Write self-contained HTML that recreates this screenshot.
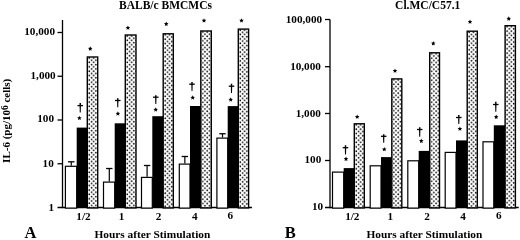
<!DOCTYPE html>
<html><head><meta charset="utf-8"><style>
html,body{margin:0;padding:0;background:#fff;width:520px;height:240px;overflow:hidden}
svg{display:block;will-change:transform}
text{font-family:"Liberation Serif",serif;font-weight:bold;fill:#000}
</style></head><body>
<svg width="520" height="240" viewBox="0 0 520 240">
<defs>
<pattern id="d0" patternUnits="userSpaceOnUse" width="4.4" height="4.4" x="88.20" y="56.90"><rect width="4.4" height="4.4" fill="#fff"/><circle cx="1.1" cy="1.1" r="0.85" fill="#000"/><circle cx="3.3" cy="3.3" r="0.85" fill="#000"/></pattern>
<pattern id="d1" patternUnits="userSpaceOnUse" width="4.4" height="4.4" x="126.20" y="34.90"><rect width="4.4" height="4.4" fill="#fff"/><circle cx="1.1" cy="1.1" r="0.85" fill="#000"/><circle cx="3.3" cy="3.3" r="0.85" fill="#000"/></pattern>
<pattern id="d2" patternUnits="userSpaceOnUse" width="4.4" height="4.4" x="164.10" y="33.70"><rect width="4.4" height="4.4" fill="#fff"/><circle cx="1.1" cy="1.1" r="0.85" fill="#000"/><circle cx="3.3" cy="3.3" r="0.85" fill="#000"/></pattern>
<pattern id="d3" patternUnits="userSpaceOnUse" width="4.4" height="4.4" x="201.70" y="30.90"><rect width="4.4" height="4.4" fill="#fff"/><circle cx="1.1" cy="1.1" r="0.85" fill="#000"/><circle cx="3.3" cy="3.3" r="0.85" fill="#000"/></pattern>
<pattern id="d4" patternUnits="userSpaceOnUse" width="4.4" height="4.4" x="239.20" y="29.00"><rect width="4.4" height="4.4" fill="#fff"/><circle cx="1.1" cy="1.1" r="0.85" fill="#000"/><circle cx="3.3" cy="3.3" r="0.85" fill="#000"/></pattern>
<pattern id="d5" patternUnits="userSpaceOnUse" width="4.4" height="4.4" x="355.20" y="123.70"><rect width="4.4" height="4.4" fill="#fff"/><circle cx="1.1" cy="1.1" r="0.85" fill="#000"/><circle cx="3.3" cy="3.3" r="0.85" fill="#000"/></pattern>
<pattern id="d6" patternUnits="userSpaceOnUse" width="4.4" height="4.4" x="392.70" y="78.80"><rect width="4.4" height="4.4" fill="#fff"/><circle cx="1.1" cy="1.1" r="0.85" fill="#000"/><circle cx="3.3" cy="3.3" r="0.85" fill="#000"/></pattern>
<pattern id="d7" patternUnits="userSpaceOnUse" width="4.4" height="4.4" x="430.60" y="52.70"><rect width="4.4" height="4.4" fill="#fff"/><circle cx="1.1" cy="1.1" r="0.85" fill="#000"/><circle cx="3.3" cy="3.3" r="0.85" fill="#000"/></pattern>
<pattern id="d8" patternUnits="userSpaceOnUse" width="4.4" height="4.4" x="468.10" y="31.10"><rect width="4.4" height="4.4" fill="#fff"/><circle cx="1.1" cy="1.1" r="0.85" fill="#000"/><circle cx="3.3" cy="3.3" r="0.85" fill="#000"/></pattern>
<pattern id="d9" patternUnits="userSpaceOnUse" width="4.4" height="4.4" x="506.00" y="25.60"><rect width="4.4" height="4.4" fill="#fff"/><circle cx="1.1" cy="1.1" r="0.85" fill="#000"/><circle cx="3.3" cy="3.3" r="0.85" fill="#000"/></pattern>
</defs>
<rect width="520" height="240" fill="#fff"/>
<line x1="62.5" y1="20" x2="62.5" y2="208.2" stroke="#000" stroke-width="1.3"/>
<line x1="57.5" y1="32.5" x2="62.5" y2="32.5" stroke="#000" stroke-width="1.3"/>
<line x1="57.5" y1="76.25" x2="62.5" y2="76.25" stroke="#000" stroke-width="1.3"/>
<line x1="57.5" y1="120" x2="62.5" y2="120" stroke="#000" stroke-width="1.3"/>
<line x1="57.5" y1="163.75" x2="62.5" y2="163.75" stroke="#000" stroke-width="1.3"/>
<line x1="57.5" y1="207.5" x2="252" y2="207.5" stroke="#000" stroke-width="1.5"/>
<rect x="65.40" y="166.30" width="11.30" height="41.80" fill="#fff" stroke="#000" stroke-width="1.2"/>
<rect x="76.70" y="127.60" width="10.60" height="79.90" fill="#000"/>
<rect x="87.30" y="57.00" width="10.40" height="150.90" fill="url(#d0)" stroke="#000" stroke-width="1.4"/>
<line x1="71.25000000000001" y1="161.8" x2="71.25000000000001" y2="165.7" stroke="#000" stroke-width="1.2"/>
<line x1="68.05000000000001" y1="161.8" x2="74.45000000000002" y2="161.8" stroke="#000" stroke-width="1.3"/>
<rect x="103.50" y="182.10" width="11.20" height="26.00" fill="#fff" stroke="#000" stroke-width="1.2"/>
<rect x="114.70" y="123.30" width="10.60" height="84.20" fill="#000"/>
<rect x="125.30" y="35.00" width="10.70" height="172.90" fill="url(#d1)" stroke="#000" stroke-width="1.4"/>
<line x1="109.3" y1="168.5" x2="109.3" y2="181.5" stroke="#000" stroke-width="1.2"/>
<line x1="106.1" y1="168.5" x2="112.5" y2="168.5" stroke="#000" stroke-width="1.3"/>
<rect x="141.50" y="177.40" width="10.80" height="30.70" fill="#fff" stroke="#000" stroke-width="1.2"/>
<rect x="152.30" y="116.20" width="10.90" height="91.30" fill="#000"/>
<rect x="163.20" y="33.80" width="10.10" height="174.10" fill="url(#d2)" stroke="#000" stroke-width="1.4"/>
<line x1="147.1" y1="165.5" x2="147.1" y2="176.8" stroke="#000" stroke-width="1.2"/>
<line x1="143.9" y1="165.5" x2="150.29999999999998" y2="165.5" stroke="#000" stroke-width="1.3"/>
<rect x="179.30" y="164.10" width="10.70" height="44.00" fill="#fff" stroke="#000" stroke-width="1.2"/>
<rect x="190.00" y="106.00" width="10.80" height="101.50" fill="#000"/>
<rect x="200.80" y="31.00" width="10.50" height="176.90" fill="url(#d3)" stroke="#000" stroke-width="1.4"/>
<line x1="184.85" y1="156.5" x2="184.85" y2="163.5" stroke="#000" stroke-width="1.2"/>
<line x1="181.65" y1="156.5" x2="188.04999999999998" y2="156.5" stroke="#000" stroke-width="1.3"/>
<rect x="216.90" y="138.10" width="10.80" height="70.00" fill="#fff" stroke="#000" stroke-width="1.2"/>
<rect x="227.70" y="106.10" width="10.60" height="101.40" fill="#000"/>
<rect x="238.30" y="29.10" width="10.30" height="178.80" fill="url(#d4)" stroke="#000" stroke-width="1.4"/>
<line x1="222.5" y1="133.75" x2="222.5" y2="137.5" stroke="#000" stroke-width="1.2"/>
<line x1="219.3" y1="133.75" x2="225.7" y2="133.75" stroke="#000" stroke-width="1.3"/>
<path d="M79.50,103.10 L81.00,103.10 L80.75,112.50 L79.75,112.50Z" fill="#000"/>
<line x1="77.5" y1="105.6" x2="83.0" y2="105.6" stroke="#000" stroke-width="1.3"/>
<path d="M117.00,98.25 L118.50,98.25 L118.25,107.25 L117.25,107.25Z" fill="#000"/>
<line x1="115.0" y1="100.5" x2="120.5" y2="100.5" stroke="#000" stroke-width="1.3"/>
<path d="M155.05,95.30 L156.55,95.30 L156.30,104.00 L155.30,104.00Z" fill="#000"/>
<line x1="153.05" y1="97.2" x2="158.55" y2="97.2" stroke="#000" stroke-width="1.3"/>
<path d="M191.25,82.00 L192.75,82.00 L192.50,91.00 L191.50,91.00Z" fill="#000"/>
<line x1="189.25" y1="84.2" x2="194.75" y2="84.2" stroke="#000" stroke-width="1.3"/>
<path d="M230.75,83.70 L232.25,83.70 L232.00,93.00 L231.00,93.00Z" fill="#000"/>
<line x1="228.75" y1="86.2" x2="234.25" y2="86.2" stroke="#000" stroke-width="1.3"/>
<polygon points="79.40,115.70 80.06,117.19 81.68,117.36 80.47,118.45 80.81,120.04 79.40,119.23 77.99,120.04 78.33,118.45 77.12,117.36 78.74,117.19" fill="#000"/>
<polygon points="117.90,111.30 118.56,112.79 120.18,112.96 118.97,114.05 119.31,115.64 117.90,114.83 116.49,115.64 116.83,114.05 115.62,112.96 117.24,112.79" fill="#000"/>
<polygon points="155.70,107.30 156.36,108.79 157.98,108.96 156.77,110.05 157.11,111.64 155.70,110.83 154.29,111.64 154.63,110.05 153.42,108.96 155.04,108.79" fill="#000"/>
<polygon points="192.70,95.30 193.36,96.79 194.98,96.96 193.77,98.05 194.11,99.64 192.70,98.83 191.29,99.64 191.63,98.05 190.42,96.96 192.04,96.79" fill="#000"/>
<polygon points="230.70,97.30 231.36,98.79 232.98,98.96 231.77,100.05 232.11,101.64 230.70,100.83 229.29,101.64 229.63,100.05 228.42,98.96 230.04,98.79" fill="#000"/>
<polygon points="90.25,46.35 90.91,47.84 92.53,48.01 91.32,49.10 91.66,50.69 90.25,49.88 88.84,50.69 89.18,49.10 87.97,48.01 89.59,47.84" fill="#000"/>
<polygon points="127.90,25.50 128.56,26.99 130.18,27.16 128.97,28.25 129.31,29.84 127.90,29.03 126.49,29.84 126.83,28.25 125.62,27.16 127.24,26.99" fill="#000"/>
<polygon points="166.25,21.60 166.91,23.09 168.53,23.26 167.32,24.35 167.66,25.94 166.25,25.13 164.84,25.94 165.18,24.35 163.97,23.26 165.59,23.09" fill="#000"/>
<polygon points="204.00,18.20 204.66,19.69 206.28,19.86 205.07,20.95 205.41,22.54 204.00,21.73 202.59,22.54 202.93,20.95 201.72,19.86 203.34,19.69" fill="#000"/>
<polygon points="241.50,18.20 242.16,19.69 243.78,19.86 242.57,20.95 242.91,22.54 241.50,21.73 240.09,22.54 240.43,20.95 239.22,19.86 240.84,19.69" fill="#000"/>
<line x1="330" y1="19.5" x2="330" y2="208.2" stroke="#000" stroke-width="1.3"/>
<line x1="325" y1="19.5" x2="330" y2="19.5" stroke="#000" stroke-width="1.3"/>
<line x1="325" y1="66.7" x2="330" y2="66.7" stroke="#000" stroke-width="1.3"/>
<line x1="325" y1="113.5" x2="330" y2="113.5" stroke="#000" stroke-width="1.3"/>
<line x1="325" y1="160.5" x2="330" y2="160.5" stroke="#000" stroke-width="1.3"/>
<line x1="325" y1="207.5" x2="518.75" y2="207.5" stroke="#000" stroke-width="1.5"/>
<rect x="332.50" y="172.10" width="11.20" height="36.00" fill="#fff" stroke="#000" stroke-width="1.2"/>
<rect x="343.70" y="168.10" width="10.60" height="39.40" fill="#000"/>
<rect x="354.30" y="123.80" width="10.00" height="84.10" fill="url(#d5)" stroke="#000" stroke-width="1.4"/>
<rect x="370.20" y="165.80" width="10.80" height="42.30" fill="#fff" stroke="#000" stroke-width="1.2"/>
<rect x="381.00" y="157.10" width="10.80" height="50.40" fill="#000"/>
<rect x="391.80" y="78.90" width="10.00" height="129.00" fill="url(#d6)" stroke="#000" stroke-width="1.4"/>
<rect x="407.80" y="160.80" width="10.90" height="47.30" fill="#fff" stroke="#000" stroke-width="1.2"/>
<rect x="418.70" y="150.90" width="11.00" height="56.60" fill="#000"/>
<rect x="429.70" y="52.80" width="9.80" height="155.10" fill="url(#d7)" stroke="#000" stroke-width="1.4"/>
<rect x="445.20" y="152.40" width="10.80" height="55.70" fill="#fff" stroke="#000" stroke-width="1.2"/>
<rect x="456.00" y="140.40" width="11.20" height="67.10" fill="#000"/>
<rect x="467.20" y="31.20" width="10.10" height="176.70" fill="url(#d8)" stroke="#000" stroke-width="1.4"/>
<rect x="483.00" y="141.80" width="10.80" height="66.30" fill="#fff" stroke="#000" stroke-width="1.2"/>
<rect x="493.80" y="125.30" width="11.30" height="82.20" fill="#000"/>
<rect x="505.10" y="25.70" width="10.30" height="182.20" fill="url(#d9)" stroke="#000" stroke-width="1.4"/>
<path d="M344.75,145.20 L346.25,145.20 L346.00,154.50 L345.00,154.50Z" fill="#000"/>
<line x1="342.75" y1="147.7" x2="348.25" y2="147.7" stroke="#000" stroke-width="1.3"/>
<path d="M382.95,134.20 L384.45,134.20 L384.20,142.70 L383.20,142.70Z" fill="#000"/>
<line x1="380.95" y1="136.3" x2="386.45" y2="136.3" stroke="#000" stroke-width="1.3"/>
<path d="M418.95,127.30 L420.45,127.30 L420.20,136.70 L419.20,136.70Z" fill="#000"/>
<line x1="416.95" y1="129.5" x2="422.45" y2="129.5" stroke="#000" stroke-width="1.3"/>
<path d="M458.05,115.00 L459.55,115.00 L459.30,124.00 L458.30,124.00Z" fill="#000"/>
<line x1="456.05" y1="117.5" x2="461.55" y2="117.5" stroke="#000" stroke-width="1.3"/>
<path d="M495.05,101.70 L496.55,101.70 L496.30,111.70 L495.30,111.70Z" fill="#000"/>
<line x1="493.05" y1="104.5" x2="498.55" y2="104.5" stroke="#000" stroke-width="1.3"/>
<polygon points="346.00,156.60 346.66,158.09 348.28,158.26 347.07,159.35 347.41,160.94 346.00,160.13 344.59,160.94 344.93,159.35 343.72,158.26 345.34,158.09" fill="#000"/>
<polygon points="384.30,146.90 384.96,148.39 386.58,148.56 385.37,149.65 385.71,151.24 384.30,150.43 382.89,151.24 383.23,149.65 382.02,148.56 383.64,148.39" fill="#000"/>
<polygon points="421.30,138.60 421.96,140.09 423.58,140.26 422.37,141.35 422.71,142.94 421.30,142.13 419.89,142.94 420.23,141.35 419.02,140.26 420.64,140.09" fill="#000"/>
<polygon points="459.90,126.40 460.56,127.89 462.18,128.06 460.97,129.15 461.31,130.74 459.90,129.93 458.49,130.74 458.83,129.15 457.62,128.06 459.24,127.89" fill="#000"/>
<polygon points="496.20,114.60 496.86,116.09 498.48,116.26 497.27,117.35 497.61,118.94 496.20,118.13 494.79,118.94 495.13,117.35 493.92,116.26 495.54,116.09" fill="#000"/>
<polygon points="357.20,114.40 357.86,115.89 359.48,116.06 358.27,117.15 358.61,118.74 357.20,117.93 355.79,118.74 356.13,117.15 354.92,116.06 356.54,115.89" fill="#000"/>
<polygon points="395.00,68.40 395.66,69.89 397.28,70.06 396.07,71.15 396.41,72.74 395.00,71.93 393.59,72.74 393.93,71.15 392.72,70.06 394.34,69.89" fill="#000"/>
<polygon points="433.30,41.10 433.96,42.59 435.58,42.76 434.37,43.85 434.71,45.44 433.30,44.63 431.89,45.44 432.23,43.85 431.02,42.76 432.64,42.59" fill="#000"/>
<polygon points="470.00,19.50 470.66,20.99 472.28,21.16 471.07,22.25 471.41,23.84 470.00,23.03 468.59,23.84 468.93,22.25 467.72,21.16 469.34,20.99" fill="#000"/>
<polygon points="508.75,16.35 509.41,17.84 511.03,18.01 509.82,19.10 510.16,20.69 508.75,19.88 507.34,20.69 507.68,19.10 506.47,18.01 508.09,17.84" fill="#000"/>
<text x="55.0" y="35.4" font-size="11.2" text-anchor="end">10,000</text>
<text x="55.699999999999996" y="79.39999999999999" font-size="11.2" text-anchor="end">1,000</text>
<text x="54.05" y="122.2" font-size="11.2" text-anchor="end">100</text>
<text x="53.8" y="167.0" font-size="11.2" text-anchor="end">10</text>
<text x="54.05" y="211.4" font-size="11.2" text-anchor="end">1</text>
<text x="322.1" y="23.1" font-size="11.2" text-anchor="end">100,000</text>
<text x="320.90000000000003" y="69.8" font-size="11.2" text-anchor="end">10,000</text>
<text x="320.90000000000003" y="116.8" font-size="11.2" text-anchor="end">1,000</text>
<text x="321.3" y="163.4" font-size="11.2" text-anchor="end">100</text>
<text x="323.2" y="210.4" font-size="11.2" text-anchor="end">10</text>
<text x="83.45" y="220.0" font-size="11.2" text-anchor="middle">1/2</text>
<text x="121.6" y="220.0" font-size="11.2" text-anchor="middle">1</text>
<text x="158.6" y="220.0" font-size="11.2" text-anchor="middle">2</text>
<text x="194.8" y="220.0" font-size="11.2" text-anchor="middle">4</text>
<text x="230.3" y="219.20000000000002" font-size="11.2" text-anchor="middle">6</text>
<text x="352.3" y="219.60000000000002" font-size="11.2" text-anchor="middle">1/2</text>
<text x="390.2" y="219.60000000000002" font-size="11.2" text-anchor="middle">1</text>
<text x="427.1" y="219.60000000000002" font-size="11.2" text-anchor="middle">2</text>
<text x="463.1" y="219.60000000000002" font-size="11.2" text-anchor="middle">4</text>
<text x="498.7" y="218.70000000000002" font-size="11.2" text-anchor="middle">6</text>
<text x="165.5" y="9.1" font-size="11.5" text-anchor="middle">BALB/c BMCMCs</text>
<text x="427.7" y="9.1" font-size="11.5" text-anchor="middle">Cl.MC/C57.1</text>
<text x="152.4" y="237.6" font-size="11.35" text-anchor="middle">Hours after Stimulation</text>
<text x="424.4" y="237.6" font-size="11.35" text-anchor="middle">Hours after Stimulation</text>
<text x="24.4" y="237.8" font-size="16.5" text-anchor="start">A</text>
<text x="284.8" y="237.8" font-size="16.5" text-anchor="start">B</text>
<text transform="translate(9.7,120.8) rotate(-90)" font-size="11" text-anchor="middle">IL-6 (pg/10<tspan font-size="9.5" dy="-1.3">6</tspan><tspan dy="1.3"> cells)</tspan></text>
</svg>
</body></html>
